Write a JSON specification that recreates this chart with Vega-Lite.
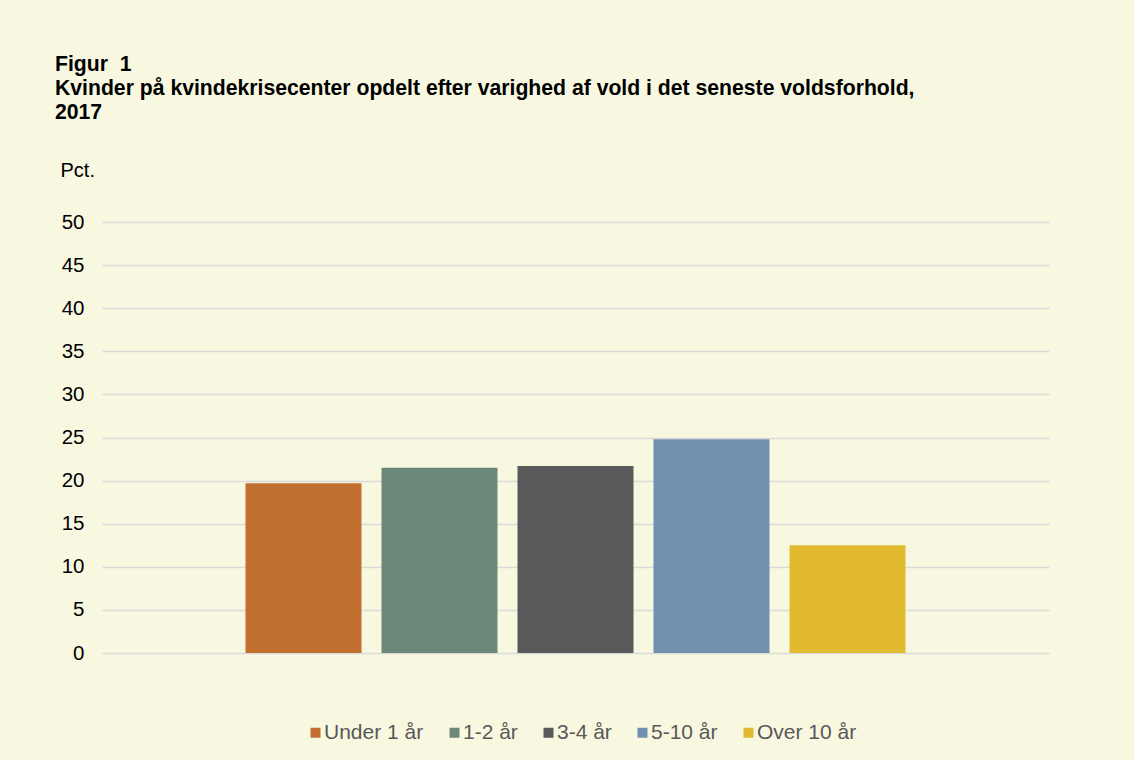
{
  "$schema": "https://vega.github.io/schema/vega-lite/v6.json",
  "width": 947,
  "height": 431,
  "autosize": {"type": "none"},
  "padding": {"left": 102, "top": 222, "right": 85, "bottom": 107},
  "background": "#F8F8E1",
  "title": {
    "text": ["Figur \u00a01", "Kvinder på kvindekrisecenter opdelt efter varighed af vold i det seneste voldsforhold,", "2017"],
    "anchor": "start",
    "frame": "group",
    "dx": -47,
    "font": "Liberation Sans",
    "fontSize": 21.2,
    "fontWeight": "bold",
    "color": "#000000",
    "lineHeight": 23.7,
    "offset": 37
  },
  "data": {
    "values": [
      {"aar": "2017", "kategori": "Under 1 år", "pct": 19.7},
      {"aar": "2017", "kategori": "1-2 år", "pct": 21.5},
      {"aar": "2017", "kategori": "3-4 år", "pct": 21.7},
      {"aar": "2017", "kategori": "5-10 år", "pct": 24.8},
      {"aar": "2017", "kategori": "Over 10 år", "pct": 12.5}
    ]
  },
  "mark": {"type": "bar"},
  "encoding": {
    "x": {
      "field": "aar",
      "type": "nominal",
      "scale": {"paddingInner": 0, "paddingOuter": 0.2174, "round": false},
      "axis": null
    },
    "xOffset": {
      "field": "kategori",
      "type": "nominal",
      "sort": ["Under 1 år", "1-2 år", "3-4 år", "5-10 år", "Over 10 år"],
      "scale": {"paddingInner": 0.147, "paddingOuter": 0, "round": false}
    },
    "y": {
      "field": "pct",
      "type": "quantitative",
      "scale": {"domain": [0, 50]},
      "axis": {
        "values": [0, 5, 10, 15, 20, 25, 30, 35, 40, 45, 50],
        "title": "Pct.",
        "titleAngle": 0,
        "titleAlign": "left",
        "titleBaseline": "middle",
        "titleX": -42,
        "titleY": -52,
        "titleFont": "Liberation Sans",
        "titleFontSize": 20,
        "titleFontWeight": "normal",
        "titleColor": "#000000",
        "labelFont": "Liberation Sans",
        "labelFontSize": 20.5,
        "labelColor": "#000000",
        "labelPadding": 18,
        "domain": false,
        "ticks": false,
        "grid": true,
        "gridColor": "#D9D9D9",
        "gridWidth": 1.5
      }
    },
    "color": {
      "field": "kategori",
      "type": "nominal",
      "sort": null,
      "scale": {
        "domain": ["Under 1 år", "1-2 år", "3-4 år", "5-10 år", "Over 10 år"],
        "range": ["#C1702F", "#6B8878", "#595959", "#7190AE", "#E2BA30"]
      },
      "legend": {
        "orient": "none",
        "direction": "horizontal",
        "legendX": 203,
        "legendY": 500,
        "title": null,
        "symbolType": "square",
        "symbolSize": 100,
        "symbolStrokeWidth": 0,
        "symbolOpacity": 1,
        "labelFont": "Liberation Sans",
        "labelFontSize": 21,
        "labelColor": "#595959",
        "labelOffset": -2,
        "columnPadding": 20
      }
    }
  },
  "config": {"view": {"stroke": null}}
}
